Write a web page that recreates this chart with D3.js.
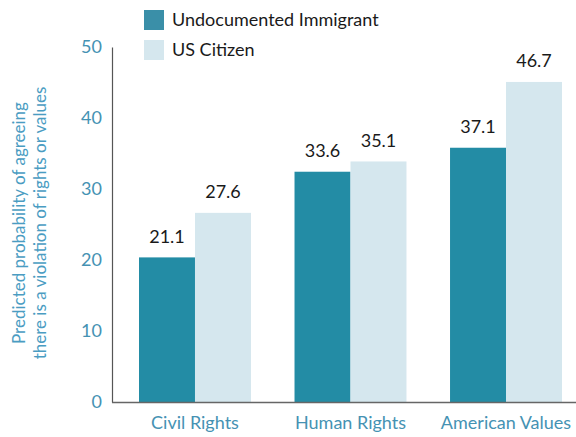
<!DOCTYPE html>
<html>
<head>
<meta charset="utf-8">
<script src="https://cdn.jsdelivr.net/npm/d3@7"></script>
<style>
  body { margin: 0; background: #fff; }
  text { font-family: Lato, "Open Sans", sans-serif; }
</style>
</head>
<body>
<div id="container"></div>
<script>
/* CONSTANTS AND GLOBALS */
const width = 576;
const height = 437;

const categories = ["Civil Rights", "Human Rights", "American Values"];
const series = ["Undocumented Immigrant", "US Citizen"];
const undocumented = [21.1, 33.6, 37.1];
const citizen = [27.6, 35.1, 46.7];
const yTicks = [0, 10, 20, 30, 40, 50];

const colors = ["#238ca5", "#d5e7ee"];

const data = categories.map((c, i) => ({
  category: c,
  values: [
    { key: series[0], value: undocumented[i] },
    { key: series[1], value: citizen[i] }
  ]
}));

/* SCALES */
// axis scale
const y = d3.scaleLinear()
  .domain([0, 50])
  .range([402, 47]);

// bars in the original sit a bit short of the axis, so stretch domain a bit
const yBar = y.copy().domain([0, 51.8]);

const x0 = d3.scaleBand()
  .domain(categories)
  .range([139, 562])
  .paddingInner(0.28);

const x1 = d3.scaleBand()
  .domain(series)
  .range([0, x0.bandwidth()]);

const color = d3.scaleOrdinal().domain(series).range(colors);

/* SVG */
const svg = d3.select("#container")
  .append("svg")
  .attr("width", width)
  .attr("height", height);

// bars
const groups = svg.selectAll("g.group")
  .data(data)
  .join("g")
  .attr("class", "group")
  .attr("transform", d => `translate(${x0(d.category)},0)`);

groups.selectAll("rect")
  .data(d => d.values)
  .join("rect")
  .attr("x", d => x1(d.key))
  .attr("width", x1.bandwidth())
  .attr("y", d => yBar(d.value))
  .attr("height", d => yBar(0) - yBar(d.value))
  .attr("fill", d => color(d.key));

// value labels
groups.selectAll("text.value")
  .data(d => d.values)
  .join("text")
  .attr("class", "value")
  .attr("x", d => x1(d.key) + x1.bandwidth() / 2)
  .attr("y", d => yBar(d.value) - 21)
  .attr("dy", "0.35em")
  .attr("text-anchor", "middle")
  .style("font-size", "18px")
  .style("fill", "#1a1a1a")
  .text(d => d.value);

// y axis
const yAxis = svg.append("g")
  .attr("transform", "translate(112,0)")
  .call(d3.axisLeft(y).tickValues(yTicks).tickSize(0).tickPadding(10));
yAxis.select(".domain").attr("stroke", "#555").attr("stroke-width", 1.2);
yAxis.selectAll("text")
  .style("font-size", "18px")
  .style("font-family", "Lato, sans-serif")
  .attr("fill", "#4592b3");

// x axis
const xAxis = svg.append("g")
  .attr("transform", "translate(0,402)")
  .call(d3.axisBottom(x0).tickSize(0).tickPadding(14));
xAxis.select(".domain")
  .attr("d", "M112,0.5H576")
  .attr("stroke", "#666")
  .attr("stroke-width", 1.5);
xAxis.selectAll("text")
  .style("font-size", "18px")
  .style("font-family", "Lato, sans-serif")
  .attr("fill", "#4592b3");

// y axis title
const title = svg.append("text")
  .attr("transform", "translate(0,223) rotate(-90)")
  .attr("text-anchor", "middle")
  .style("font-size", "17px")
  .style("fill", "#4a9cc2");
title.append("tspan").attr("x", 0).attr("y", 25).text("Predicted probability of agreeing");
title.append("tspan").attr("x", 0).attr("y", 46).text("there is a violation of rights or values");

// legend
const legend = svg.selectAll("g.legend")
  .data(series)
  .join("g")
  .attr("class", "legend")
  .attr("transform", (d, i) => `translate(144,${10 + i * 30})`);

legend.append("rect")
  .attr("width", 20)
  .attr("height", 20)
  .attr("fill", (d, i) => i === 0 ? "#3a8fa8" : colors[1]);

legend.append("text")
  .attr("x", 28)
  .attr("y", 10)
  .attr("dy", "0.35em")
  .style("font-size", "18px")
  .style("fill", "#1a1a1a")
  .text(d => d);
</script>
</body>
</html>
